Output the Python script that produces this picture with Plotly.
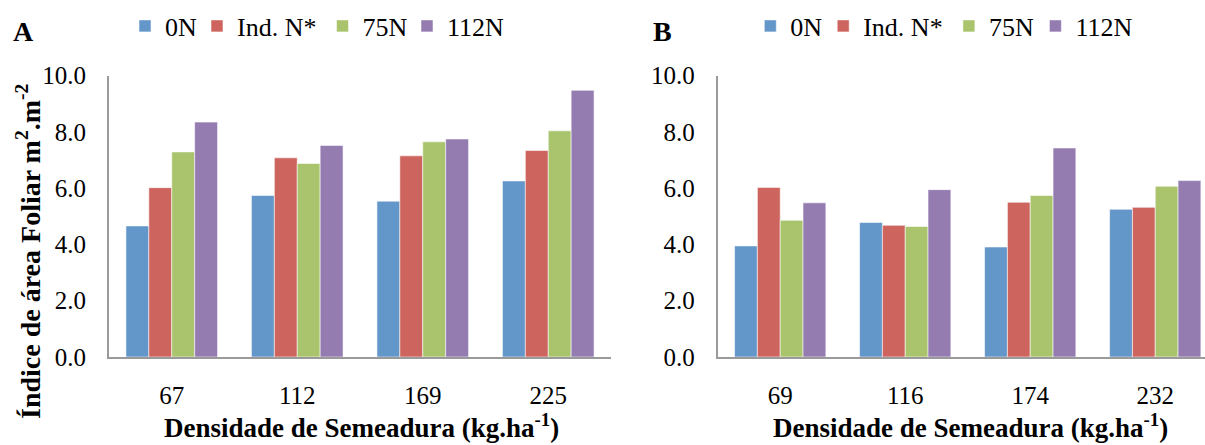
import plotly.graph_objects as go

W, H = 1205, 445

series = ["0N", "Ind. N*", "75N", "112N"]
colors = ["#6396C9", "#CD655E", "#AAC46D", "#947CB1"]

cats_a = ["67", "112", "169", "225"]
vals_a = {
    "0N":      [4.66, 5.74, 5.54, 6.26],
    "Ind. N*": [6.02, 7.08, 7.15, 7.34],
    "75N":     [7.29, 6.88, 7.65, 8.04],
    "112N":    [8.35, 7.52, 7.75, 9.48],
}

cats_b = ["69", "116", "174", "232"]
vals_b = {
    "0N":      [3.95, 4.78, 3.91, 5.25],
    "Ind. N*": [6.03, 4.68, 5.50, 5.32],
    "75N":     [4.86, 4.64, 5.74, 6.07],
    "112N":    [5.48, 5.95, 7.43, 6.27],
}

y_ticks = [0, 2, 4, 6, 8, 10]
y_ticktext = ["0.0", "2.0", "4.0", "6.0", "8.0", "10.0"]

x_title = "Densidade de Semeadura (kg.ha<sup>-1</sup>)"
y_title = "Índice de área Foliar m<sup>2</sup>.m<sup>-2</sup>"

FONT = "Liberation Serif"

# legend swatch centres (px) for panels A and B
legend_sq_a = [148.5, 220.5, 346, 430.5]
legend_sq_b = [773.8, 846.7, 972.4, 1058.9]

fig = go.Figure()
for i, (name, col) in enumerate(zip(series, colors)):
    fig.add_trace(go.Bar(
        x=cats_a, y=vals_a[name], name=name, marker_color=col,
        marker_line=dict(color="rgba(255,255,255,0.55)", width=1),
        xaxis="x", yaxis="y", legend="legend" if i == 0 else f"legend{i + 1}",
        hoverinfo="x+y+name"))
for i, (name, col) in enumerate(zip(series, colors)):
    fig.add_trace(go.Bar(
        x=cats_b, y=vals_b[name], name=name, marker_color=col,
        marker_line=dict(color="rgba(255,255,255,0.55)", width=1),
        xaxis="x2", yaxis="y2", legend=f"legend{i + 5}",
        hoverinfo="x+y+name"))

def px_x(v):
    return v / W

def px_y(v):
    return (H - v) / H

y_dom = [px_y(357), px_y(75.7)]

axis_common = dict(showline=True, linecolor="#9A9A9A", linewidth=2,
                   showgrid=False, zeroline=False, ticks="", automargin=False,
                   tickfont=dict(family=FONT, size=25, color="black"))

def legend_cfg(sq_center):
    return dict(orientation="h", x=px_x(sq_center - 23.5), y=px_y(26),
                xanchor="left", yanchor="middle",
                font=dict(family=FONT, size=26, color="black"),
                bgcolor="rgba(0,0,0,0)", itemclick=False, itemdoubleclick=False)

legends = {}
for i, s in enumerate(legend_sq_a + legend_sq_b):
    key = "legend" if i == 0 else f"legend{i + 1}"
    legends[key] = legend_cfg(s)

fig.update_layout(
    template="none",
    width=W, height=H,
    showlegend=True,
    margin=dict(l=0, r=0, t=0, b=0, autoexpand=False),
    paper_bgcolor="white", plot_bgcolor="white",
    barmode="group", bargap=0.27, bargroupgap=0,
    font=dict(family=FONT, color="black"),
    xaxis=dict(domain=[px_x(109), px_x(611)], anchor="y", range=[-0.5, 3.5],
               type="category", ticklabelstandoff=15, **axis_common),
    yaxis=dict(domain=y_dom, anchor="x", range=[0, 10],
               tickvals=y_ticks, ticktext=y_ticktext, ticklabelstandoff=16,
               **axis_common),
    xaxis2=dict(domain=[px_x(717.7), 1], anchor="y2", range=[-0.5, 3.398],
                type="category", ticklabelstandoff=15, **axis_common),
    yaxis2=dict(domain=y_dom, anchor="x2", range=[0, 10],
                tickvals=y_ticks, ticktext=y_ticktext, ticklabelstandoff=16,
                **axis_common),
    annotations=[
        dict(text=y_title, textangle=-90, x=px_x(28), y=px_y(252),
             xref="paper", yref="paper", xanchor="center", yanchor="middle",
             showarrow=False,
             font=dict(family=FONT, size=28, color="black", weight="bold")),
        dict(text=x_title, x=px_x(361), y=px_y(426),
             xref="paper", yref="paper", xanchor="center", yanchor="middle",
             showarrow=False,
             font=dict(family=FONT, size=27, color="black", weight="bold")),
        dict(text=x_title, x=px_x(970), y=px_y(426),
             xref="paper", yref="paper", xanchor="center", yanchor="middle",
             showarrow=False,
             font=dict(family=FONT, size=27, color="black", weight="bold")),
        dict(text="<b>A</b>", x=px_x(23), y=px_y(31), xref="paper", yref="paper",
             xanchor="center", yanchor="middle", showarrow=False,
             font=dict(family=FONT, size=28, color="black")),
        dict(text="<b>B</b>", x=px_x(662), y=px_y(31), xref="paper", yref="paper",
             xanchor="center", yanchor="middle", showarrow=False,
             font=dict(family=FONT, size=28, color="black")),
    ],
    **legends,
)

fig.write_html("out.html")
